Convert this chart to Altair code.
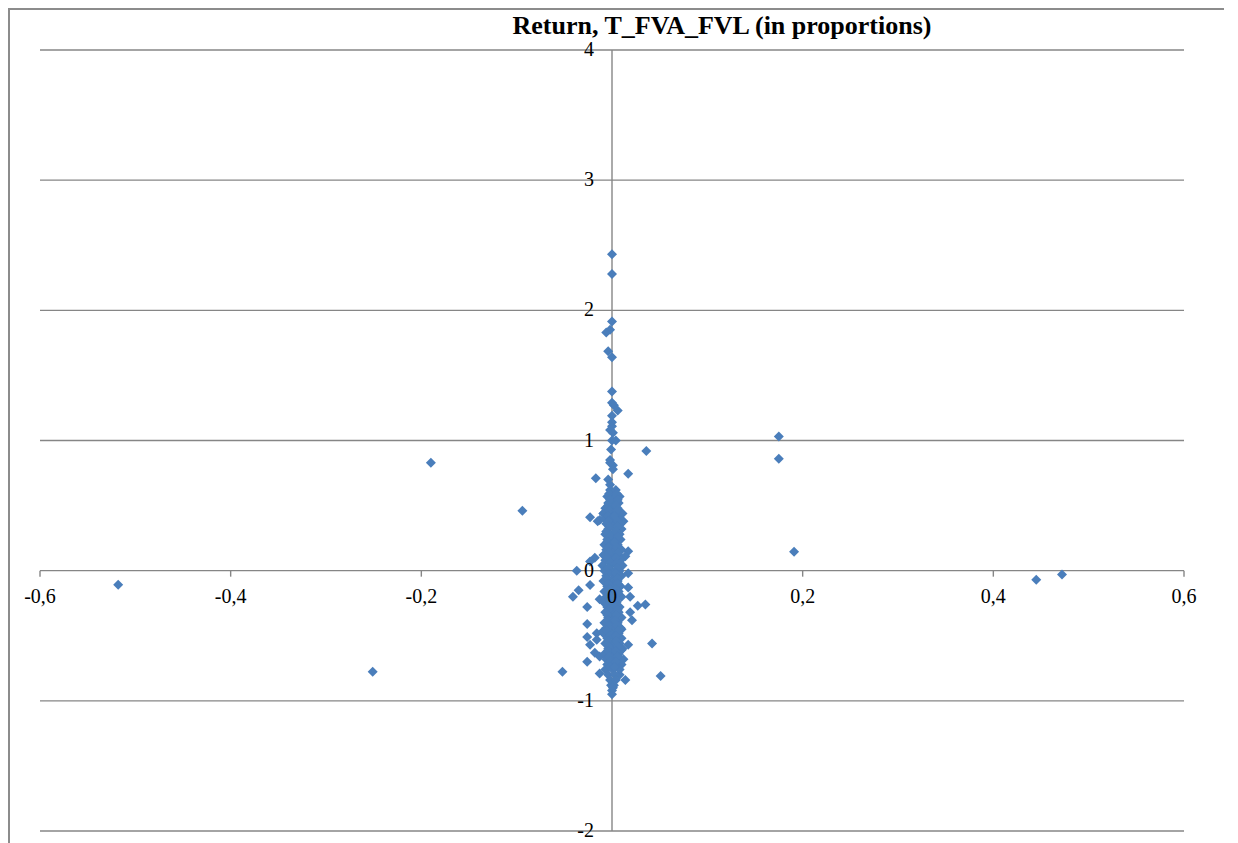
import altair as alt
import pandas as pd

# ---- data ----
far_x = [-0.518, -0.251, -0.190, -0.094, 0.175, 0.175, 0.191, 0.445, 0.472, 0.036, -0.052, 0.051, 0.042, 0.017]
far_y = [-0.108, -0.776, 0.830, 0.460, 1.030, 0.860, 0.146, -0.070, -0.030, 0.920, -0.776, -0.810, -0.560, 0.745]

upper_x = [0.000, 0.000, 0.000, -0.002, -0.006, -0.004, 0.000, 0.000, 0.000, 0.002, 0.006, 0.000, 0.000,
           0.000, -0.002, 0.001, 0.000, 0.004, -0.001, -0.002, 0.001, 0.001, -0.002, -0.004, -0.002, 0.001,
           0.000, 0.006, -0.009, -0.013, 0.012, -0.017]
upper_y = [2.430, 2.280, 1.915, 1.850, 1.830, 1.685, 1.640, 1.377, 1.290, 1.270, 1.230, 1.190, 1.140,
           1.110, 1.080, 1.060, 1.000, 1.000, 0.930, 0.850, 0.810, 0.780, 0.830, 0.700, 0.660, 0.600,
           0.530, 0.470, 0.440, 0.390, 0.380, 0.710]

near_x = [-0.023, -0.015, 0.010, 0.017, 0.014, -0.018, -0.023, -0.037, 0.017, -0.023, -0.035, -0.041,
          0.017, 0.019, -0.013, 0.027, 0.035, -0.026, 0.019, 0.021, -0.026, -0.026, -0.016, -0.010,
          0.010, -0.023, -0.016, 0.017, -0.018, 0.010, -0.026, -0.013, 0.012, -0.013, 0.014, 0.008]
near_y = [0.410, 0.380, 0.380, 0.150, 0.110, 0.100, 0.070, 0.000, -0.020, -0.110, -0.150, -0.200,
          -0.130, -0.200, -0.220, -0.270, -0.260, -0.280, -0.320, -0.380, -0.410, -0.510, -0.480, -0.470,
          -0.450, -0.570, -0.530, -0.570, -0.630, -0.610, -0.700, -0.660, -0.680, -0.790, -0.840, -0.800]

core_x = [-0.002, 0.004,
          -0.005, 0.003, 0.008,
          -0.004, 0.002, 0.007,
          -0.007, 0.001, 0.006,
          -0.009, -0.002, 0.005, 0.011,
          -0.008, 0.000, 0.007,
          -0.006, 0.002, 0.009,
          -0.004, 0.003, 0.010,
          -0.007, 0.001, 0.008,
          -0.005, 0.002, 0.009,
          -0.008, 0.000, 0.006,
          -0.006, 0.003, 0.010,
          -0.009, -0.001, 0.007,
          -0.007, 0.002, 0.009,
          -0.010, -0.002, 0.005, 0.011,
          -0.008, 0.000, 0.008,
          -0.006, 0.003, 0.010,
          -0.009, -0.001, 0.006,
          -0.005, 0.002, 0.009,
          -0.008, 0.000, 0.007,
          -0.006, 0.003, 0.010,
          -0.009, -0.002, 0.005,
          -0.005, 0.002, 0.008,
          -0.007, 0.000, 0.007,
          -0.004, 0.003, 0.010,
          -0.008, -0.001, 0.006,
          -0.006, 0.002, 0.009,
          -0.009, 0.000, 0.007,
          -0.005, 0.003, 0.010,
          -0.007, 0.001, 0.008,
          -0.004, 0.004, 0.011,
          -0.008, 0.000, 0.007,
          -0.006, 0.002, 0.009,
          -0.005, 0.003, 0.010,
          -0.007, 0.001, 0.008,
          -0.004, 0.003,
          -0.002, 0.004,
          -0.001, 0.002,
          0.000, 0.000]
core_y = [0.62, 0.62,
          0.57, 0.57, 0.57,
          0.52, 0.52, 0.52,
          0.48, 0.48, 0.48,
          0.44, 0.44, 0.44, 0.44,
          0.40, 0.40, 0.40,
          0.36, 0.36, 0.36,
          0.32, 0.32, 0.32,
          0.28, 0.28, 0.28,
          0.24, 0.24, 0.24,
          0.20, 0.20, 0.20,
          0.16, 0.16, 0.16,
          0.12, 0.12, 0.12,
          0.08, 0.08, 0.08,
          0.04, 0.04, 0.04, 0.04,
          0.00, 0.00, 0.00,
          -0.04, -0.04, -0.04,
          -0.08, -0.08, -0.08,
          -0.12, -0.12, -0.12,
          -0.16, -0.16, -0.16,
          -0.20, -0.20, -0.20,
          -0.24, -0.24, -0.24,
          -0.28, -0.28, -0.28,
          -0.32, -0.32, -0.32,
          -0.36, -0.36, -0.36,
          -0.40, -0.40, -0.40,
          -0.44, -0.44, -0.44,
          -0.48, -0.48, -0.48,
          -0.52, -0.52, -0.52,
          -0.56, -0.56, -0.56,
          -0.60, -0.60, -0.60,
          -0.64, -0.64, -0.64,
          -0.68, -0.68, -0.68,
          -0.72, -0.72, -0.72,
          -0.76, -0.76, -0.76,
          -0.80, -0.80,
          -0.84, -0.84,
          -0.88, -0.88,
          -0.92, -0.95]

# second, interleaved layer of the dense column
core2_x = [-0.003, 0.005, -0.002, 0.006, -0.004, 0.004, -0.003, 0.005, -0.005, 0.003, -0.004, 0.006,
           -0.003, 0.005, -0.006, 0.004, -0.002, 0.006, -0.005, 0.003, -0.004, 0.005, -0.003, 0.006,
           -0.005, 0.004, -0.002, 0.005, -0.004, 0.006, -0.003, 0.004, -0.005, 0.005, -0.004, 0.006,
           -0.003, 0.004, -0.005, 0.006, -0.002, 0.005, -0.004, 0.004, -0.003, 0.006, -0.005, 0.005,
           -0.004, 0.003, -0.003, 0.005, -0.005, 0.006, -0.002, 0.004, -0.004, 0.005, -0.003, 0.006,
           -0.004, 0.004, -0.003, 0.005, -0.002, 0.004, -0.002, 0.003, 0.001]
core2_y = [0.59, 0.59, 0.545, 0.545, 0.50, 0.50, 0.46, 0.46, 0.42, 0.42, 0.38, 0.38,
           0.34, 0.34, 0.30, 0.30, 0.26, 0.26, 0.22, 0.22, 0.18, 0.18, 0.14, 0.14,
           0.10, 0.10, 0.06, 0.06, 0.02, 0.02, -0.02, -0.02, -0.06, -0.06, -0.10, -0.10,
           -0.14, -0.14, -0.18, -0.18, -0.22, -0.22, -0.26, -0.26, -0.30, -0.30, -0.34, -0.34,
           -0.38, -0.38, -0.42, -0.42, -0.46, -0.46, -0.50, -0.50, -0.54, -0.54, -0.58, -0.58,
           -0.62, -0.62, -0.66, -0.66, -0.70, -0.70, -0.74, -0.74, -0.90]

x_ticks = [-0.6, -0.4, -0.2, 0.0, 0.2, 0.4, 0.6]
x_tick_labels = ["-0,6", "-0,4", "-0,2", "0", "0,2", "0,4", "0,6"]
y_ticks = [-2, -1, 0, 1, 2, 3, 4]
y_tick_labels = ["-2", "-1", "0", "1", "2", "3", "4"]
title_text = "Return, T_FVA_FVL (in proportions)"

# ---- build tables ----
pts = pd.DataFrame({"x": far_x + upper_x + near_x + core_x + core2_x,
                    "y": far_y + upper_y + near_y + core_y + core2_y})
xt = pd.DataFrame({"v": x_ticks, "lab": x_tick_labels, "z": [0.0] * len(x_ticks)})
yt = pd.DataFrame({"v": y_ticks, "lab": y_tick_labels, "z": [0.0] * len(y_ticks)})
origin = pd.DataFrame({"z": [0.0]})

W, H = 1144, 781
FONT = "Liberation Serif"
GRID = "#868686"

xs = alt.Scale(domain=[-0.6, 0.6], nice=False, zero=False)
ys = alt.Scale(domain=[-2, 4], nice=False, zero=False)

grid = alt.Chart(yt).mark_rule(color=GRID, strokeWidth=1.4).encode(
    y=alt.Y("v:Q", scale=ys, axis=None), x=alt.value(0), x2=alt.value(W))

vaxis = alt.Chart(origin).mark_rule(color=GRID, strokeWidth=1.4).encode(
    x=alt.X("z:Q", scale=xs, axis=None), y=alt.value(0), y2=alt.value(H))

xtick_marks = alt.Chart(xt).mark_rule(color=GRID, strokeWidth=1.4, y2Offset=6).encode(
    x=alt.X("v:Q", scale=xs, axis=None), y=alt.Y("z:Q", scale=ys, axis=None), y2="z:Q")

points = alt.Chart(pts).mark_point(shape="diamond", filled=True, size=100, opacity=1,
                                   color="#4A7EBB").encode(
    x=alt.X("x:Q", scale=xs, axis=None), y=alt.Y("y:Q", scale=ys, axis=None))

xlabels = alt.Chart(xt).mark_text(font=FONT, fontSize=20, color="black", dy=26,
                                  baseline="middle", align="center").encode(
    x=alt.X("v:Q", scale=xs, axis=None), y=alt.Y("z:Q", scale=ys, axis=None), text="lab:N")

ylabels = alt.Chart(yt).mark_text(font=FONT, fontSize=20, color="black", dx=-18,
                                  baseline="middle", align="right").encode(
    x=alt.X("z:Q", scale=xs, axis=None), y=alt.Y("v:Q", scale=ys, axis=None), text="lab:N")

title = alt.Chart(pd.DataFrame({"t": [title_text]})).mark_text(
    font=FONT, fontSize=26, fontWeight="bold", color="black", align="center",
    baseline="middle").encode(x=alt.value(682), y=alt.value(-24), text="t:N")

border_left = alt.Chart(origin).mark_rule(color="#8C8C8C", strokeWidth=2).encode(
    x=alt.value(-31), y=alt.value(-42), y2=alt.value(800))
border_top = alt.Chart(origin).mark_rule(color="#8C8C8C", strokeWidth=2).encode(
    y=alt.value(-41), x=alt.value(-32), x2=alt.value(1250))

chart = alt.layer(border_left, border_top, grid, vaxis, xtick_marks, points,
                  xlabels, ylabels, title).properties(
    width=W, height=H,
    autosize=alt.AutoSizeParams(type="none"),
    padding={"left": 32, "top": 42, "right": 40, "bottom": 12},
).configure_view(stroke=None)

chart.save("out.html", embed_options={"renderer": "svg", "actions": False})
